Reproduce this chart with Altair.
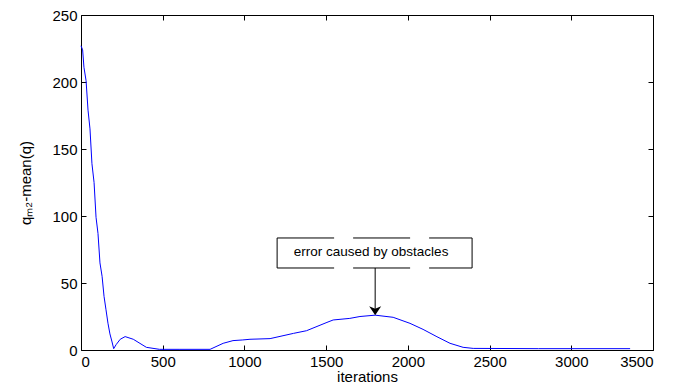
import altair as alt
import pandas as pd

# curve data
iterations = [0, 10, 18, 31, 43, 55, 67, 80, 92, 104, 116, 129, 141, 153, 165, 177, 190, 200,
              215, 240, 270, 320, 400, 480, 600, 790, 870, 930, 990, 1034, 1157, 1300, 1380,
              1505, 1543, 1645, 1707, 1800, 1910, 2013, 2093, 2178, 2258, 2338, 2400, 2800, 3360]
values = [227, 224, 211, 201, 179, 165, 139, 125, 99, 87, 65, 55, 40, 30, 20, 12, 6, 1,
          4, 8, 10, 8, 2, 0.5, 0.5, 0.5, 5, 7, 7.5, 8, 8.5, 12.4, 14.4,
          20.6, 22.4, 23.6, 25, 26, 24.4, 19.9, 15.4, 9.9, 5, 2, 1.2, 1, 1]

x_ticks = [0, 500, 1000, 1500, 2000, 2500, 3000, 3500]
y_ticks = [0, 50, 100, 150, 200, 250]

note_text = "error caused by obstacles"
note_pos = [1775, 73]
box_x = [1200, 2393]
box_y = [61.2, 83.6]
arrow_x = 1800
arrow_tip = 26

df = pd.DataFrame({"it": iterations, "val": values})
FONT = "Liberation Sans"

xs = alt.Scale(domain=[0, 3500], nice=False, zero=False)
ys = alt.Scale(domain=[0, 250], nice=False)

tick_common = dict(grid=False, domain=False, tickColor="black", tickSize=5, tickWidth=1,
                   tickOpacity=1, ticks=True, offset=-5, format="d",
                   labelFont=FONT, labelFontSize=15, labelColor="black",
                   titleFont=FONT, titleFontSize=15, titleColor="black", titleFontWeight="normal")

line = alt.Chart(df).mark_line(color="#0000ff", strokeWidth=1).encode(
    x=alt.X("it:Q", scale=xs,
            axis=alt.Axis(orient="bottom", values=x_ticks, title="iterations",
                          labelPadding=4, titlePadding=0, **tick_common)),
    y=alt.Y("val:Q", scale=ys,
            axis=alt.Axis(orient="left", values=y_ticks, title="qₘ₂-mean(q)",
                          labelPadding=4, titlePadding=18, **tick_common)),
)

ghost = alt.Chart(df).mark_line(strokeOpacity=0).encode(
    x=alt.X("it:Q", scale=xs,
            axis=alt.Axis(orient="top", values=x_ticks, labels=False, title=None, **tick_common)),
    y=alt.Y("val:Q", scale=ys,
            axis=alt.Axis(orient="right", values=y_ticks, labels=False, title=None, **tick_common)),
)

def X(f):
    return alt.X(f, type="quantitative", scale=xs, axis=None)

def Y(f):
    return alt.Y(f, type="quantitative", scale=ys, axis=None)

box_df = pd.DataFrame({"x1": [box_x[0]], "x2": [box_x[1]], "y1": [box_y[0]], "y2": [box_y[1]]})
box = alt.Chart(box_df).mark_rect(fill="white").encode(
    x=X("x1"), x2="x2", y=Y("y1"), y2="y2")

hz_df = pd.DataFrame({"x1": [box_x[0], box_x[0]], "x2": [box_x[1], box_x[1]], "y": box_y})
hz = alt.Chart(hz_df).mark_rule(color="black", strokeWidth=1, strokeDash=[57, 19]).encode(
    x=X("x1"), x2="x2", y=Y("y"))
vt_df = pd.DataFrame({"x": box_x, "y1": [box_y[0]] * 2, "y2": [box_y[1]] * 2})
vt = alt.Chart(vt_df).mark_rule(color="black", strokeWidth=1).encode(
    x=X("x"), y=Y("y1"), y2="y2")

txt_df = pd.DataFrame({"x": [note_pos[0]], "y": [note_pos[1]], "t": [note_text]})
txt = alt.Chart(txt_df).mark_text(font=FONT, fontSize=13.5, color="black", align="center",
                                  baseline="middle").encode(x=X("x"), y=Y("y"), text="t:N")

arr_df = pd.DataFrame({"x": [arrow_x], "y1": [box_y[0]], "y2": [arrow_tip + 4]})
arr = alt.Chart(arr_df).mark_rule(color="black", strokeWidth=1).encode(
    x=X("x"), y=Y("y1"), y2="y2")
head_df = pd.DataFrame({"x": [arrow_x], "y": [arrow_tip]})
head = alt.Chart(head_df).mark_point(
    shape="M0,0.75 L-1,-0.75 L0,-0.3 L1,-0.75 Z", size=144, filled=True,
    color="black", opacity=1, yOffset=-4.5).encode(x=X("x"), y=Y("y"))

chart = alt.layer(line, ghost, box, hz, vt, txt, arr, head).properties(
    width=572, height=335, autosize="none",
    padding={"left": 73, "top": 7, "right": 27, "bottom": 34},
    background="white",
).configure_view(stroke="black", strokeWidth=1)

chart.save("out.html", embed_options={"renderer": "svg", "actions": False})
